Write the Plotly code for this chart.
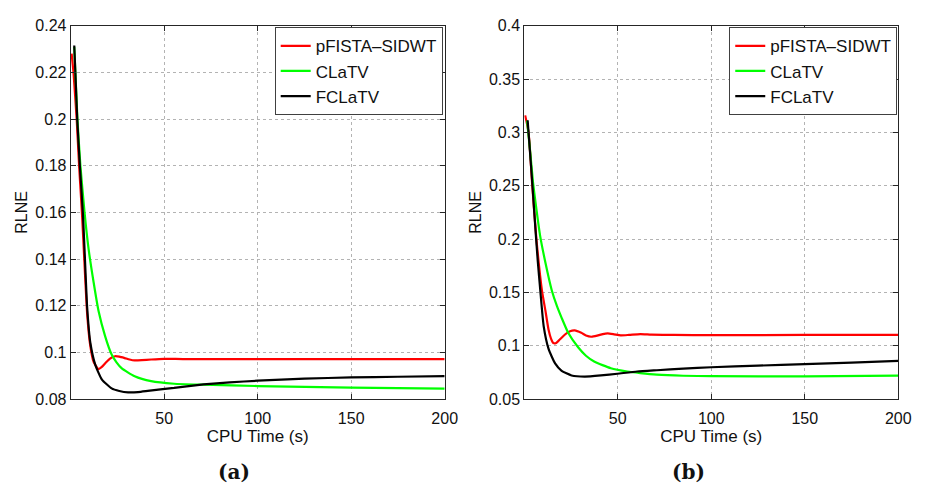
import plotly.graph_objects as go

# ---------------- data: panel (a) ----------------
a_red_x = [0.5, 1.5, 3.2, 4.5, 6.0, 7.0, 8.8, 10.5, 12.3, 14.9, 16.5, 18.4, 21.0, 23.7, 26.0, 28.9, 31.5, 34.2, 38.0, 43.0, 50.0, 60.0, 100.0, 150.0, 200.0]
a_red_y = [0.2281, 0.220, 0.200, 0.180, 0.160, 0.1441, 0.1165, 0.1027, 0.0958, 0.0928, 0.0936, 0.0952, 0.0973, 0.0983, 0.0981, 0.0975, 0.0969, 0.0965, 0.0966, 0.0969, 0.0972, 0.0971, 0.0971, 0.0971, 0.0971]

a_green_x = [1.9, 3.6, 5.2, 7.4, 9.6, 12.3, 14.9, 18.4, 21.9, 24.5, 27.2, 34.2, 43.0, 55.3, 71.0, 100.0, 150.0, 200.0]
a_green_y = [0.2310, 0.200, 0.180, 0.160, 0.1441, 0.1298, 0.1177, 0.1069, 0.0990, 0.0957, 0.0932, 0.0897, 0.0876, 0.0865, 0.0861, 0.0855, 0.0848, 0.0844]

a_black_x = [1.9, 2.5, 3.5, 4.9, 6.5, 7.4, 8.8, 10.5, 13.2, 16.7, 21.9, 26.0, 30.7, 36.0, 41.2, 48.0, 55.3, 62.0, 71.0, 85.0, 100.0, 125.0, 150.0, 175.0, 200.0]
a_black_y = [0.2316, 0.220, 0.200, 0.180, 0.160, 0.1441, 0.1193, 0.1041, 0.0945, 0.0883, 0.0845, 0.0834, 0.0828, 0.0829, 0.0834, 0.0841, 0.0847, 0.0854, 0.0862, 0.0871, 0.0878, 0.0887, 0.0892, 0.0895, 0.0898]

# ---------------- data: panel (b) ----------------
b_red_x = [0.5, 2.3, 4.3, 6.5, 9.5, 11.3, 13.0, 14.3, 15.6, 16.8, 18.3, 21.8, 24.5, 27.0, 30.5, 33.0, 35.8, 39.0, 42.0, 44.6, 48.0, 51.6, 56.0, 62.1, 68.0, 80.0, 100.0, 150.0, 200.0]
b_red_y = [0.316, 0.300, 0.250, 0.200, 0.1513, 0.133, 0.1148, 0.1065, 0.1023, 0.1022, 0.1044, 0.1104, 0.1135, 0.1143, 0.1120, 0.1095, 0.1083, 0.1093, 0.1108, 0.1114, 0.1106, 0.1096, 0.1100, 0.1108, 0.1103, 0.1100, 0.1098, 0.1100, 0.1100]

b_green_x = [1.5, 3.0, 4.7, 6.5, 8.5, 11.3, 14.7, 17.5, 20.0, 23.5, 28.8, 33.0, 37.6, 46.3, 55.1, 62.0, 70.9, 85.0, 100.0, 150.0, 200.0]
b_green_y = [0.311, 0.285, 0.253, 0.228, 0.203, 0.178, 0.152, 0.137, 0.126, 0.112, 0.0984, 0.0905, 0.0848, 0.0788, 0.0757, 0.0742, 0.0727, 0.0717, 0.0713, 0.0711, 0.0718]

b_black_x = [1.8, 2.3, 4.4, 6.0, 7.2, 8.6, 10.4, 13.0, 16.5, 20.0, 25.3, 32.3, 41.0, 49.8, 60.4, 70.9, 85.0, 100.0, 125.0, 150.0, 175.0, 200.0]
b_black_y = [0.3114, 0.300, 0.250, 0.2087, 0.180, 0.1513, 0.1180, 0.0969, 0.0833, 0.0763, 0.0720, 0.0709, 0.0720, 0.0736, 0.0757, 0.0769, 0.0784, 0.0797, 0.0812, 0.0826, 0.0840, 0.0856]

series_names = ["pFISTA–SIDWT", "CLaTV", "FCLaTV"]
series_colors = ["#ff0000", "#00ff00", "#000000"]

x_tickvals = [50, 100, 150, 200]
x_ticktext = ["50", "100", "150", "200"]
a_y_tickvals = [0.08, 0.10, 0.12, 0.14, 0.16, 0.18, 0.20, 0.22, 0.24]
a_y_ticktext = ["0.08", "0.1", "0.12", "0.14", "0.16", "0.18", "0.2", "0.22", "0.24"]
b_y_tickvals = [0.05, 0.10, 0.15, 0.20, 0.25, 0.30, 0.35, 0.40]
b_y_ticktext = ["0.05", "0.1", "0.15", "0.2", "0.25", "0.3", "0.35", "0.4"]

x_title = "CPU Time (s)"
y_title = "RLNE"
panel_labels = ["(a)", "(b)"]

W, H = 928, 488
FONT = "Liberation Sans, Arial, sans-serif"

fig = go.Figure()

a_data = [(a_red_x, a_red_y), (a_green_x, a_green_y), (a_black_x, a_black_y)]
b_data = [(b_red_x, b_red_y), (b_green_x, b_green_y), (b_black_x, b_black_y)]

line_shape = dict(width=2.2, shape="spline", smoothing=0.5)
for (xs, ys), name, col in zip(a_data, series_names, series_colors):
    fig.add_trace(go.Scatter(x=xs, y=ys, mode="lines", name=name,
                             line=dict(color=col, **line_shape),
                             xaxis="x", yaxis="y", legend="legend"))
for (xs, ys), name, col in zip(b_data, series_names, series_colors):
    fig.add_trace(go.Scatter(x=xs, y=ys, mode="lines", name=name,
                             line=dict(color=col, **line_shape),
                             xaxis="x2", yaxis="y2", legend="legend2"))

ydom = [1 - 405 / H, 1 - 18.5 / H]
common_axis = dict(showline=True, linecolor="#262626", linewidth=1, mirror="ticks",
                   ticks="inside", ticklen=5, tickcolor="#262626",
                   showgrid=True, gridcolor="#b3b3b3", griddash="dot", gridwidth=1,
                   zeroline=False, tickfont=dict(family=FONT, size=16, color="#111"))
xt = dict(text=x_title, standoff=2, font=dict(family=FONT, size=17, color="#111"))
yt = dict(text=y_title, standoff=3, font=dict(family=FONT, size=16, color="#111"))

legend_style = dict(bgcolor="white", bordercolor="#404040", borderwidth=1,
                    font=dict(family=FONT, size=17, color="#111"), tracegroupgap=0,
                    y=1 - 20 / H, yanchor="top", xanchor="right")

fig.update_layout(
    width=W, height=H, margin=dict(l=0, r=0, t=0, b=0),
    paper_bgcolor="white", plot_bgcolor="white",
    font=dict(family=FONT, size=16, color="#111"),
    xaxis=dict(domain=[71.7 / W, 451 / W], range=[0, 200], anchor="y",
               tickvals=x_tickvals, ticktext=x_ticktext, ticklabelstandoff=5,
               title=xt, **common_axis),
    yaxis=dict(domain=ydom, range=[0.08, 0.24], anchor="x",
               tickvals=a_y_tickvals, ticktext=a_y_ticktext,
               title=yt, **common_axis),
    xaxis2=dict(domain=[531.7 / W, 911 / W], range=[0, 200], anchor="y2",
                tickvals=x_tickvals, ticktext=x_ticktext, ticklabelstandoff=5,
                title=xt, **common_axis),
    yaxis2=dict(domain=ydom, range=[0.05, 0.40], anchor="x2",
                tickvals=b_y_tickvals, ticktext=b_y_ticktext,
                title=yt, **common_axis),
    legend=dict(x=449 / W, **legend_style),
    legend2=dict(x=910 / W, **legend_style),
    showlegend=True,
)

for lbl, cx in zip(panel_labels, [237, 698.5]):
    fig.add_annotation(text="<b>" + lbl + "</b>", x=cx / W, y=1 - 481 / H, xref="paper", yref="paper",
                       showarrow=False, xanchor="center", yanchor="middle",
                       font=dict(family="DejaVu Serif, Liberation Serif, serif", size=20, color="#111"))

fig.write_html("out.html")
